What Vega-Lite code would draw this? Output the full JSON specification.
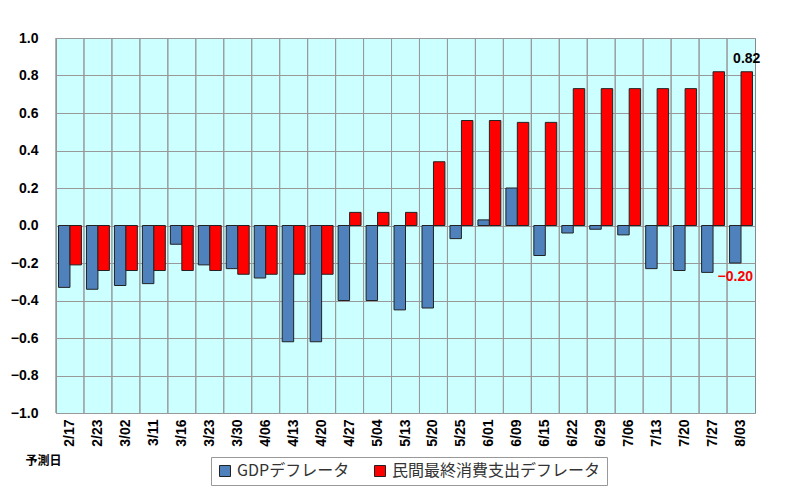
{
  "$schema": "https://vega.github.io/schema/vega-lite/v6.json",
  "autosize": "none",
  "width": 699,
  "height": 375,
  "padding": {"left": 56, "top": 38, "right": 45, "bottom": 82},
  "background": "white",
  "data": {
    "values": [
      {"date": "2/17", "series": "GDPデフレータ", "value": -0.33},
      {"date": "2/23", "series": "GDPデフレータ", "value": -0.34},
      {"date": "3/02", "series": "GDPデフレータ", "value": -0.32},
      {"date": "3/11", "series": "GDPデフレータ", "value": -0.31},
      {"date": "3/16", "series": "GDPデフレータ", "value": -0.1},
      {"date": "3/23", "series": "GDPデフレータ", "value": -0.21},
      {"date": "3/30", "series": "GDPデフレータ", "value": -0.23},
      {"date": "4/06", "series": "GDPデフレータ", "value": -0.28},
      {"date": "4/13", "series": "GDPデフレータ", "value": -0.62},
      {"date": "4/20", "series": "GDPデフレータ", "value": -0.62},
      {"date": "4/27", "series": "GDPデフレータ", "value": -0.4},
      {"date": "5/04", "series": "GDPデフレータ", "value": -0.4},
      {"date": "5/13", "series": "GDPデフレータ", "value": -0.45},
      {"date": "5/20", "series": "GDPデフレータ", "value": -0.44},
      {"date": "5/25", "series": "GDPデフレータ", "value": -0.07},
      {"date": "6/01", "series": "GDPデフレータ", "value": 0.03},
      {"date": "6/09", "series": "GDPデフレータ", "value": 0.2},
      {"date": "6/15", "series": "GDPデフレータ", "value": -0.16},
      {"date": "6/22", "series": "GDPデフレータ", "value": -0.04},
      {"date": "6/29", "series": "GDPデフレータ", "value": -0.02},
      {"date": "7/06", "series": "GDPデフレータ", "value": -0.05},
      {"date": "7/13", "series": "GDPデフレータ", "value": -0.23},
      {"date": "7/20", "series": "GDPデフレータ", "value": -0.24},
      {"date": "7/27", "series": "GDPデフレータ", "value": -0.25},
      {"date": "8/03", "series": "GDPデフレータ", "value": -0.2},
      {"date": "2/17", "series": "民間最終消費支出デフレータ", "value": -0.21},
      {"date": "2/23", "series": "民間最終消費支出デフレータ", "value": -0.24},
      {"date": "3/02", "series": "民間最終消費支出デフレータ", "value": -0.24},
      {"date": "3/11", "series": "民間最終消費支出デフレータ", "value": -0.24},
      {"date": "3/16", "series": "民間最終消費支出デフレータ", "value": -0.24},
      {"date": "3/23", "series": "民間最終消費支出デフレータ", "value": -0.24},
      {"date": "3/30", "series": "民間最終消費支出デフレータ", "value": -0.26},
      {"date": "4/06", "series": "民間最終消費支出デフレータ", "value": -0.26},
      {"date": "4/13", "series": "民間最終消費支出デフレータ", "value": -0.26},
      {"date": "4/20", "series": "民間最終消費支出デフレータ", "value": -0.26},
      {"date": "4/27", "series": "民間最終消費支出デフレータ", "value": 0.07},
      {"date": "5/04", "series": "民間最終消費支出デフレータ", "value": 0.07},
      {"date": "5/13", "series": "民間最終消費支出デフレータ", "value": 0.07},
      {"date": "5/20", "series": "民間最終消費支出デフレータ", "value": 0.34},
      {"date": "5/25", "series": "民間最終消費支出デフレータ", "value": 0.56},
      {"date": "6/01", "series": "民間最終消費支出デフレータ", "value": 0.56},
      {"date": "6/09", "series": "民間最終消費支出デフレータ", "value": 0.55},
      {"date": "6/15", "series": "民間最終消費支出デフレータ", "value": 0.55},
      {"date": "6/22", "series": "民間最終消費支出デフレータ", "value": 0.73},
      {"date": "6/29", "series": "民間最終消費支出デフレータ", "value": 0.73},
      {"date": "7/06", "series": "民間最終消費支出デフレータ", "value": 0.73},
      {"date": "7/13", "series": "民間最終消費支出デフレータ", "value": 0.73},
      {"date": "7/20", "series": "民間最終消費支出デフレータ", "value": 0.73},
      {"date": "7/27", "series": "民間最終消費支出デフレータ", "value": 0.82},
      {"date": "8/03", "series": "民間最終消費支出デフレータ", "value": 0.82}
    ]
  },
  "encoding": {
    "x": {
      "field": "date",
      "type": "nominal",
      "sort": null,
      "scale": {"paddingInner": 0, "paddingOuter": 0},
      "axis": {
        "title": "予測日",
        "titleX": -13,
        "titleY": 47,
        "titleAlign": "center",
        "titleBaseline": "middle",
        "titleFont": "Noto Sans CJK JP",
        "titleFontSize": 12,
        "titleFontWeight": "bold",
        "titleColor": "black",
        "labelAngle": -90,
        "labelAlign": "right",
        "labelBaseline": "middle",
        "labelFont": "Liberation Sans",
        "labelFontSize": 14,
        "labelFontWeight": "bold",
        "labelColor": "black",
        "labelPadding": 6,
        "labelOverlap": false,
        "ticks": false,
        "domain": false,
        "grid": false
      }
    },
    "y": {
      "field": "value",
      "type": "quantitative",
      "scale": {"domain": [-1, 1], "nice": false},
      "axis": {
        "title": null,
        "values": [-1, -0.8, -0.6, -0.4, -0.2, 0, 0.2, 0.4, 0.6, 0.8, 1],
        "format": ".1f",
        "labelFont": "Liberation Sans",
        "labelFontSize": 14,
        "labelFontWeight": "bold",
        "labelColor": "black",
        "labelPadding": 18,
        "labelOverlap": false,
        "labelFlush": false,
        "ticks": false,
        "domain": false,
        "gridColor": "#999999",
        "gridOpacity": 1
      }
    },
    "xOffset": {
      "field": "series",
      "type": "nominal",
      "sort": ["GDPデフレータ", "民間最終消費支出デフレータ"],
      "scale": {"paddingInner": 0, "paddingOuter": 0.22}
    }
  },
  "layer": [
    {
      "mark": {"type": "rule", "color": "#999999", "strokeWidth": 1},
      "encoding": {
        "x": {"field": "date", "type": "nominal", "sort": null, "bandPosition": 0},
        "y": null,
        "xOffset": null
      }
    },
    {
      "mark": {"type": "bar", "stroke": "#222222", "strokeWidth": 1},
      "encoding": {
        "color": {
          "field": "series",
          "type": "nominal",
          "sort": ["GDPデフレータ", "民間最終消費支出デフレータ"],
          "scale": {"range": ["#4F81BD", "#FF0000"]},
          "legend": {
            "title": null,
            "orient": "none",
            "legendX": 155,
            "legendY": 419,
            "direction": "horizontal",
            "symbolType": "square",
            "symbolSize": 121,
            "symbolStrokeColor": "#222222",
            "symbolStrokeWidth": 1,
            "symbolOpacity": 1,
            "labelFont": "Noto Sans CJK JP",
            "labelFontSize": 16,
            "labelColor": "#333333",
            "labelLimit": 400,
            "columnPadding": 22,
            "strokeColor": "#999999",
            "fillColor": "white",
            "padding": 6
          }
        }
      }
    },
    {
      "transform": [{"filter": "datum.date == '8/03' && datum.series == '民間最終消費支出デフレータ'"}],
      "mark": {"type": "text", "font": "Liberation Sans", "fontSize": 14, "fontWeight": "bold", "color": "black", "baseline": "bottom", "dy": -6},
      "encoding": {
        "text": {"field": "value", "type": "quantitative", "format": ".2f"}
      }
    },
    {
      "transform": [{"filter": "datum.date == '8/03' && datum.series == 'GDPデフレータ'"}],
      "mark": {"type": "text", "font": "Liberation Sans", "fontSize": 14, "fontWeight": "bold", "color": "#FF0000", "baseline": "top", "dy": 7},
      "encoding": {
        "text": {"field": "value", "type": "quantitative", "format": ".2f"}
      }
    }
  ],
  "config": {
    "view": {"fill": "#CCFFFF", "stroke": "#888888", "strokeWidth": 1},
    "axisY": {"labelOverlap": false}
  }
}
